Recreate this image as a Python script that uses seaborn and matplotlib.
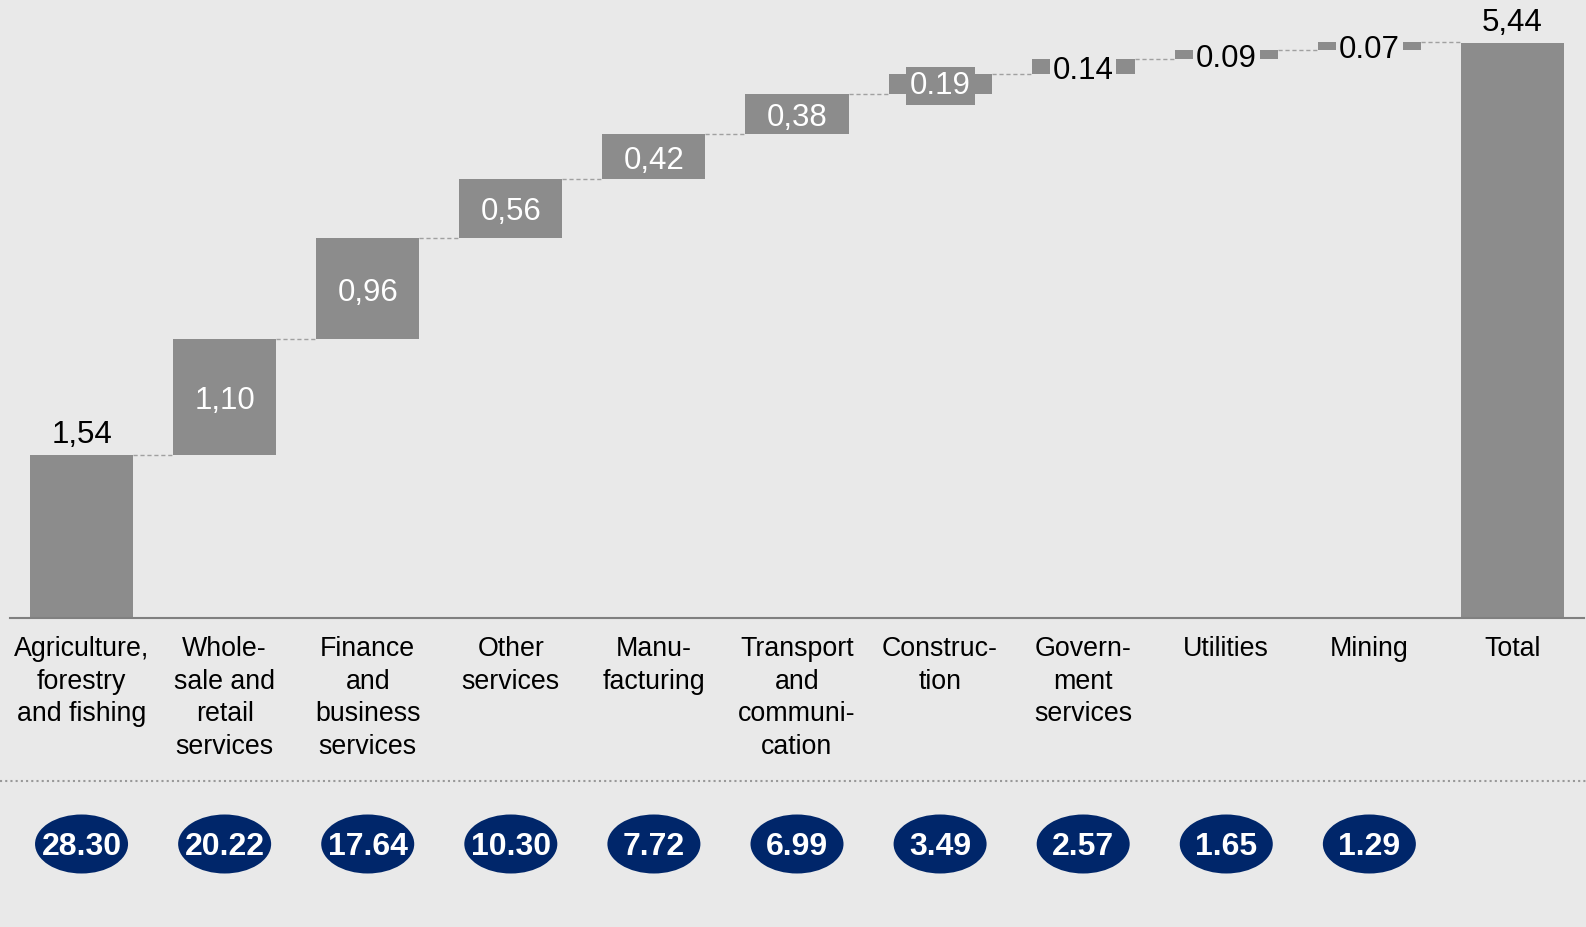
"""waterfall of growth contribution by sector, with sector shares in ovals underneath."""

import matplotlib.pyplot as plt
import seaborn as sns
from matplotlib.patches import Ellipse
from matplotlib.lines import Line2D

sectors = ['Agriculture,\nforestry\nand fishing', 'Whole-\nsale and\nretail\nservices',
           'Finance\nand\nbusiness\nservices', 'Other\nservices', 'Manu-\nfacturing',
           'Transport\nand\ncommuni-\ncation', 'Construc-\ntion', 'Govern-\nment\nservices',
           'Utilities', 'Mining', 'Total']
contrib = [1.54, 1.10, 0.96, 0.56, 0.42, 0.38, 0.19, 0.14, 0.09, 0.07]
total = 5.44
value_labels = ['1,54', '1,10', '0,96', '0,56', '0,42', '0,38', '0.19', '0.14', '0.09', '0.07', '5,44']
shares = ['28.30', '20.22', '17.64', '10.30', '7.72', '6.99', '3.49', '2.57', '1.65', '1.29']

bg = '#e9e9e9'
bar_col = '#8c8c8c'
navy = '#00266a'

sns.set_style('white')
plt.rcParams['font.family'] = ['Liberation Sans', 'DejaVu Sans']
plt.rcParams['text.color'] = 'black'
plt.rcParams['xtick.color'] = 'black'

heights = contrib + [total]
bottoms = []
run = 0
for v in contrib:
    bottoms.append(run)
    run += v
bottoms.append(0)

fig = plt.figure(figsize=(15.86, 9.27), dpi=100, facecolor=bg)
ax = fig.add_axes([10 / 1586, 309 / 927, 1574 / 1586, 618 / 927])
ax.set_facecolor(bg)

sns.barplot(x=list(range(len(heights))), y=heights, color=bar_col, saturation=1,
            width=0.72, linewidth=0, ax=ax)
for p, b in zip(ax.patches, bottoms):
    p.set_y(b)

ax.set_xlim(-0.5, 10.5)
ax.set_ylim(0, 5.85)
ax.set_yticks([])
ax.set_ylabel('')
for s in ['top', 'left', 'right']:
    ax.spines[s].set_visible(False)
ax.spines['bottom'].set_color('#808080')
ax.spines['bottom'].set_linewidth(1.5)
ax.set_xticks(range(len(sectors)))
ax.set_xticklabels(sectors, fontsize=19.3, linespacing=1.33, color='black')
ax.tick_params(axis='x', length=0, pad=13)

# connectors
for i in range(len(heights) - 1):
    top = bottoms[i] + heights[i]
    ax.plot([i + 0.36, i + 1 - 0.36], [top, top], ls=(0, (3, 2)), lw=1,
            color='#a0a0a0', zorder=1)

# value labels
for i, (b, h, lab) in enumerate(zip(bottoms, heights, value_labels)):
    if i == 0 or i == len(heights) - 1:
        ax.annotate(lab, (i, b + h), xytext=(0, 4), textcoords='offset points',
                    ha='center', va='bottom', fontsize=22.5, color='black')
    elif h >= 0.3:
        ax.annotate(lab, (i, b + h / 2), xytext=(0, -3), textcoords='offset points',
                    ha='center', va='center', fontsize=22.5, color='white')
    elif h >= 0.15:
        ax.annotate(lab, (i, b + h / 2), xytext=(0, -1.5), textcoords='offset points',
                    ha='center', va='center', fontsize=22.5, color='white',
                    bbox=dict(facecolor=bar_col, edgecolor='none', pad=3))
    else:
        ax.annotate(lab, (i, b + h / 2), xytext=(0, -3), textcoords='offset points',
                    ha='center', va='center', fontsize=22.5, color='black',
                    bbox=dict(facecolor=bg, edgecolor='none', pad=2))

# dotted separator
fig.add_artist(Line2D([0, 1], [1 - 781 / 927, 1 - 781 / 927], transform=fig.transFigure,
                      ls=(0, (1, 1.5)), lw=1.5, color='#999999'))

# shares in ovals
ax2 = fig.add_axes([10 / 1586, 0, 1574 / 1586, 146 / 927])
ax2.set_xlim(-0.5, 10.5)
ax2.set_ylim(0, 146)
ax2.axis('off')
for i, s in enumerate(shares):
    ax2.add_patch(Ellipse((i, 83), 0.65, 59, facecolor=navy, edgecolor='none'))
    ax2.text(i, 80, s, ha='center', va='center', fontsize=23, fontweight='bold', color='white')

fig.savefig('out.png', dpi=100, facecolor=bg)
